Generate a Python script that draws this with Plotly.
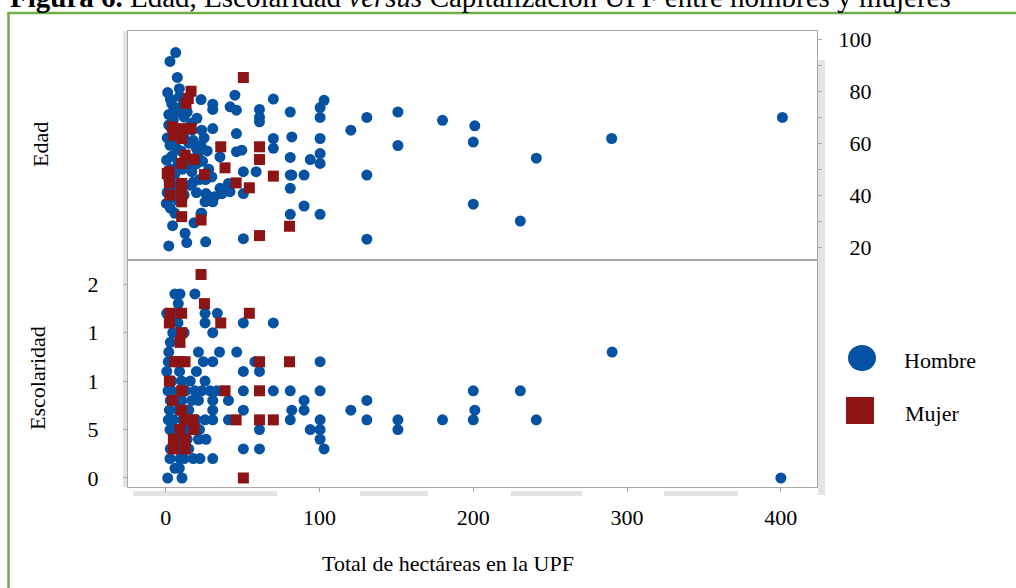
import plotly.graph_objects as go

# ---------------- data ----------------
# Upper panel: Edad (age) vs total hectares
ha_hombre_edad = [45, 41.9, 46, 30.6, 30.6, 61, 61, 70, 81, 103, 100.4, 100.4, 61, 30.6, 46, 70, 82,
                  100.4, 120.4, 130.8, 151, 180, 201, 200, 151, 241, 290, 401, 49.5, 46, 35.3, 70, 81,
                  94, 100.4, 100.4, 50.5, 58.8, 81, 82, 90, 130.8, 81, 40.8, 50.5, 36.4, 41.8, 35.3,
                  90, 81, 100.4, 200, 230.6, 50.5, 130.8,
                  6.5, 2.8, 7.6, 8.9, 1.3, 3, 4, 5.5, 2, 7, 10, 12, 23, 20.3, 16.9, 23.4, 2, 6, 9, 1,
                  3.5, 2.8, 12, 15, 18, 20, 23, 27, 25, 21, 0.6, 4, 8, 3, 6, 11, 14, 17, 20, 24, 28,
                  30, 22, 18, 26, 15.8, 2, 5, 9, 1, 4, 12, 26.2, 31.6, 20, 0.4, 3, 8, 6, 23, 4.5,
                  18.4, 12.6, 13.7, 26, 2, 10, 7, 13, 16, 5, 14, 9, 17, 25.6, 30.6, 23.4, 36.4]
edad_hombre = [78.5, 74, 72.7, 75, 73, 73, 70, 77, 72, 76.5, 73.7, 69.9, 68.2, 65.6, 63.7, 61.8, 62.4,
               61.8, 65, 69.9, 72, 68.8, 66.7, 60.4, 59.1, 54.2, 61.8, 69.9, 57.3, 56.7, 54.7, 58, 54.5,
               53.7, 56, 52.2, 49, 49, 47.7, 47.7, 47.7, 47.7, 42.6, 44.5, 40.6, 40.6, 41.3, 42.6,
               35.8, 32.6, 32.6, 36.5, 30, 23.2, 23,
               94.9, 91.5, 85.3, 81, 79.5, 77, 75, 73, 71, 72, 74, 70, 76.8, 69.6, 67.7, 65, 67, 66, 64, 62,
               60, 59.2, 62, 60, 61, 58, 59, 57, 62, 56, 53.5, 55, 52, 50, 48, 50, 51, 49, 52, 53, 50,
               47, 46, 45, 46, 43.8, 46, 44, 42, 41, 39, 40, 40.6, 39.4, 41, 36.8, 35, 38, 33, 33, 28.2,
               29.3, 25.3, 21.7, 22, 20.4, 57, 58, 55, 54, 69, 72, 78, 65, 37.4, 37.4, 33, 40.6]

ha_mujer_edad = [50.5, 16.5, 14.7, 13.2, 4.3, 10.4, 16.5, 5, 10.4, 35.8, 61, 61, 12.6, 18.4, 10.4,
                 38.6, 25.2, 2.4, 2.4, 10.4, 70, 45.8, 54.4, 2.8, 10.4, 10.4, 10.4, 23, 80.5, 61,
                 1, 10.3]
edad_mujer = [85.3, 80, 77.2, 75.3, 66.3, 65.6, 65.6, 63, 61.8, 58.6, 58.6, 53.7, 55.4, 53.7, 52.2,
              50.5, 47.9, 49, 44.7, 44.5, 47.3, 44.7, 42.8, 40, 40.6, 37.4, 31.7, 30.4, 28, 24.4,
              48.3, 41.3]

# Lower panel: Escolaridad (years of schooling) vs total hectares
ha_hombre_esc = [6, 9.3, 19, 8.2, 0.7, 25.6, 33.6, 25.6, 50.5, 70, 4.6, 30.6, 21.3, 35, 46.2, 1.7, 24.5,
                 30.6, 58, 100.4, 0.7, 20, 50.5, 61, 10.4, 25.6, 1.5, 19, 23.4, 28.9, 33.2, 50.5, 70,
                 81, 100.4, 200, 230.6, 290.3, 201, 200, 241, 400, 10.4, 21.3, 30.6, 40.8, 90, 130.8,
                 2.4, 30.6, 50.5, 82, 90, 120.4, 1.7, 25.6, 30.6, 40.8, 81, 100.4, 130.8, 151, 180,
                 2.8, 61, 94, 100.4, 151, 21.3, 26.2, 100.4, 50.5, 61, 103, 2.8, 9.3, 18, 22.3, 30.6,
                 8.9, 1.3, 10.6,
                 5, 8, 3, 12, 2, 6, 9, 4, 13, 16, 7, 3, 15, 5, 11, 18, 20, 4, 8, 14, 22, 6, 10, 3, 8,
                 15, 12, 6, 4, 8, 17, 12, 14]
esc_hombre = [19, 19, 19, 18, 17, 17, 17, 16, 16, 16, 15, 15, 13, 13, 13, 12, 12,
              12, 12, 12, 11, 11, 11, 11, 10, 10, 9, 9, 9, 9, 9, 9, 9,
              9, 9, 9, 9, 13, 7, 6, 6, 0, 8, 8, 8, 8, 8, 8,
              7, 7, 7, 7, 7, 7, 6, 6, 6, 6, 6, 6, 6, 6, 6,
              5, 5, 5, 5, 5, 4, 4, 4, 3, 3, 3, 2, 2, 2, 2, 2,
              1, 0, 0,
              17, 16, 14, 15, 13, 12, 11, 10, 9, 10, 8, 8, 7, 6, 6, 6, 6, 5, 5, 5, 5, 4, 4, 3, 3,
              3, 2, 1, 9, 7, 8, 12, 4]

ha_mujer_esc = [23, 25.2, 54.4, 2.8, 10.4, 2.4, 35.8, 10.4, 9.3, 6, 12.6, 61, 80.5, 2.4, 10.4, 38.6,
                61, 4.5, 10.4, 12.6, 17.6, 45.8, 61, 70, 9.3, 18.4, 5, 12.6, 5, 12.6, 50.5, 8]
esc_mujer = [21, 18, 17, 17, 17, 16, 16, 15, 14, 12, 12, 12, 12, 10, 9, 9,
             9, 8, 7, 6, 6, 6, 6, 6, 5, 5, 4, 4, 3, 3, 0, 12]

x_tickvals = [0, 100, 200, 300, 400]
edad_tickvals = [20, 40, 60, 80, 100]
edad_ticktext = ["\u00a0\u00a020", "\u00a0\u00a040", "\u00a0\u00a060", "\u00a0\u00a080", "100"]
esc_tickvals = [0, 5, 10, 15, 20]
esc_ticktext = ["0", "5", "1", "1", "2"]

series_names = ["Hombre", "Mujer"]

# ---------------- styling ----------------
W, H = 1016, 588
P_LEFT, P_RIGHT, P_TOP, P_BOT = 128, 817, 31, 487  # plot box in pixels
ML, MT = P_LEFT, P_TOP
PW, PH = P_RIGHT - P_LEFT, P_BOT - P_TOP
MR, MB = W - ML - PW, H - MT - PH
SPLIT = (P_BOT - 260) / PH

BLUE = "#0652A2"
RED = "#8C1414"
FONT = "Liberation Serif"
AXC = "#A8A8A8"


def xp(px):
    return (px - P_LEFT) / PW


def yp(py):
    return (P_BOT - py) / PH


fig = go.Figure()

mk_h = dict(symbol="circle", size=11, color=BLUE, line=dict(width=0))
mk_m = dict(symbol="square", size=11, color=RED, line=dict(width=0))

fig.add_trace(go.Scatter(x=ha_hombre_edad, y=edad_hombre, mode="markers", marker=mk_h,
                         name=series_names[0], xaxis="x2", yaxis="y2", showlegend=False))
fig.add_trace(go.Scatter(x=ha_mujer_edad, y=edad_mujer, mode="markers", marker=mk_m,
                         name=series_names[1], xaxis="x2", yaxis="y2", showlegend=False))
fig.add_trace(go.Scatter(x=ha_hombre_esc, y=esc_hombre, mode="markers", marker=mk_h,
                         name=series_names[0], xaxis="x", yaxis="y", showlegend=False))
fig.add_trace(go.Scatter(x=ha_mujer_esc, y=esc_mujer, mode="markers", marker=mk_m,
                         name=series_names[1], xaxis="x", yaxis="y", showlegend=False))

xr = [-24.5, 423.5]
common_axis = dict(showline=True, linecolor=AXC, linewidth=1.3, mirror=True, showgrid=False,
                   zeroline=False, ticks="outside", ticklen=4, tickcolor=AXC,
                   tickfont=dict(family=FONT, size=22, color="black"))

fig.update_layout(
    width=W, height=H,
    margin=dict(l=ML, r=MR, t=MT, b=MB, autoexpand=False),
    paper_bgcolor="white", plot_bgcolor="white",
    font=dict(family=FONT, color="black"),
    xaxis=dict(common_axis, domain=[0, 1], range=xr, anchor="y", tickvals=x_tickvals,
               ticklabelstandoff=6),
    yaxis=dict(common_axis, domain=[0, SPLIT], range=[-0.93, 22.5], anchor="x",
               tickvals=esc_tickvals, ticktext=esc_ticktext, ticklabelstandoff=20),
    xaxis2=dict(common_axis, domain=[0, 1], range=xr, anchor="y2", matches="x",
                showticklabels=False, ticks=""),
    yaxis2=dict(common_axis, domain=[SPLIT, 1], range=[15, 103.2], anchor="x2", side="right",
                tickvals=edad_tickvals, ticktext=edad_ticktext, ticklabelstandoff=12,
                minor=dict(dtick=10, ticks="outside", ticklen=4, tickcolor=AXC)),
    showlegend=False,
)

shapes = []
# green frame of the figure box
shapes.append(dict(type="rect", xref="paper", yref="paper", x0=xp(8.5), x1=xp(1040), y0=yp(610), y1=yp(13),
                   line=dict(color="#70AD47", width=2.5), fillcolor="rgba(0,0,0,0)", layer="above"))
# light grey shadow strips around the panels
grey = "#E4E4E4"
shapes.append(dict(type="rect", xref="paper", yref="paper", x0=xp(123), x1=xp(127), y0=yp(487), y1=yp(31),
                   line=dict(width=0), fillcolor=grey, layer="below"))
shapes.append(dict(type="rect", xref="paper", yref="paper", x0=xp(818), x1=xp(825), y0=yp(495), y1=yp(60),
                   line=dict(width=0), fillcolor=grey, layer="below"))
for a, b in [(133, 277), (360, 428), (511, 582), (664, 738)]:
    shapes.append(dict(type="rect", xref="paper", yref="paper", x0=xp(a), x1=xp(b), y0=yp(496), y1=yp(491),
                       line=dict(width=0), fillcolor=grey, layer="below"))
# legend symbols
shapes.append(dict(type="circle", xref="paper", yref="paper", x0=xp(848), x1=xp(876), y0=yp(371), y1=yp(345),
                   line=dict(width=0), fillcolor=BLUE))
shapes.append(dict(type="rect", xref="paper", yref="paper", x0=xp(846), x1=xp(874), y0=yp(424), y1=yp(397),
                   line=dict(width=0), fillcolor=RED))
fig.update_layout(shapes=shapes)

txt = dict(family=FONT, size=22, color="black")
ann = []
ann.append(dict(text="<b>Figura 6.</b> Edad, Escolaridad <i>versus</i> Capitalización UPF entre hombres y mujeres",
                xref="paper", yref="paper", x=xp(8), y=yp(-2.5), xanchor="left", yanchor="middle",
                showarrow=False, font=dict(family=FONT, size=29, color="black")))
ann.append(dict(text="Edad", xref="paper", yref="paper", x=xp(40), y=yp(145), textangle=-90,
                xanchor="center", yanchor="middle", showarrow=False, font=txt))
ann.append(dict(text="Escolaridad", xref="paper", yref="paper", x=xp(37), y=yp(378), textangle=-90,
                xanchor="center", yanchor="middle", showarrow=False, font=txt))
ann.append(dict(text="Total de hectáreas en la UPF", xref="paper", yref="paper", x=xp(448), y=yp(563),
                xanchor="center", yanchor="middle", showarrow=False, font=txt))
ann.append(dict(text=series_names[0], xref="paper", yref="paper", x=xp(902), y=yp(360), xanchor="left",
                yanchor="middle", showarrow=False, font=txt))
ann.append(dict(text=series_names[1], xref="paper", yref="paper", x=xp(903), y=yp(413), xanchor="left",
                yanchor="middle", showarrow=False, font=txt))
fig.update_layout(annotations=ann)

fig.write_html("out.html", config={"displayModeBar": False},
               post_script="document.body.style.margin='0px';")
